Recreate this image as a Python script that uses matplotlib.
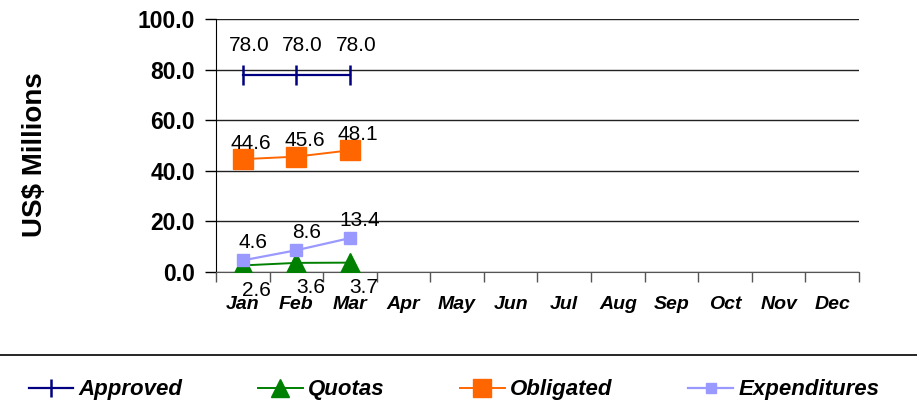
import numpy as np
import matplotlib
matplotlib.use("Agg")
import matplotlib.pyplot as plt
from matplotlib.lines import Line2D

plt.rcParams['font.family'] = ['Liberation Sans', 'DejaVu Sans']

months = ['Jan', 'Feb', 'Mar', 'Apr', 'May', 'Jun',
          'Jul', 'Aug', 'Sep', 'Oct', 'Nov', 'Dec']
approved = [78.0, 78.0, 78.0]
quotas = [2.6, 3.6, 3.7]
obligated = [44.6, 45.6, 48.1]
expenditures = [4.6, 8.6, 13.4]
yticks = [0, 20, 40, 60, 80, 100]

fig = plt.figure(figsize=(9.17, 4.09), dpi=100)
ax = fig.add_axes([216/917, 1-272/409, 643/917, 253/409])

x = np.arange(len(approved))

ax.plot(x, approved, color='#000080', lw=1.6, marker='|', ms=14, mew=1.8,
        label='Approved', zorder=4)
ax.plot(x, quotas, color='#008000', lw=1.4, marker='^', ms=14,
        label='Quotas', zorder=4)
ax.plot(x, obligated, color='#FF6600', lw=1.4, marker='s', ms=14,
        label='Obligated', zorder=4)
ax.plot(x, expenditures, color='#9999FF', lw=1.6, marker='s', ms=8.5,
        label='Expenditures', zorder=5)

# data labels
def labels(vals, dx, dy):
    for i, v in enumerate(vals):
        ax.annotate("{:.1f}".format(v), (x[i], v), xytext=(dx, dy),
                    textcoords='offset pixels', ha='center', va='center',
                    fontsize=15, zorder=6)

labels(approved, 6, 29)
labels(obligated, 8, 16)
labels(expenditures, 10, 18)
labels(quotas, 14, -25)

ax.set_xlim(-0.5, 11.5)
ax.set_ylim(0, 100)
ax.set_yticks(yticks)
ax.set_yticklabels(["{:.1f}".format(v) for v in yticks],
                   fontsize=16.5, fontweight='bold')
ax.set_xticks(np.arange(12))
ax.set_xticklabels(months, fontsize=14, fontweight='bold', style='italic')
ax.set_xticks(np.arange(13) - 0.5, minor=True)
ax.tick_params(axis='x', which='major', length=0, pad=17)
ax.tick_params(axis='x', which='minor', length=7, width=1, color='#555555')
ax.tick_params(axis='y', length=8, width=1, pad=7)

ax.grid(axis='y', color='#222222', lw=1)
ax.set_axisbelow(True)
for s in ['top', 'right']:
    ax.spines[s].set_visible(False)
ax.spines['left'].set_color('black')
ax.spines['bottom'].set_color('#555555')

fig.text(35/917, 1-155/409, 'US$ Millions', rotation=90, ha='center',
         va='center', fontsize=20, fontweight='bold')

# separator line above legend
fig.add_artist(Line2D([0, 1], [1-355/409, 1-355/409], color='black', lw=1.2,
                      transform=fig.transFigure))

fig.legend(loc='center', bbox_to_anchor=(0.495, 1-390/409), ncol=4,
           frameon=False, prop={'size': 16, 'weight': 'bold', 'style': 'italic'},
           handlelength=2.0, handletextpad=0.25, columnspacing=3.4,
           markerscale=0.9)

plt.savefig("out.png", dpi=100)
